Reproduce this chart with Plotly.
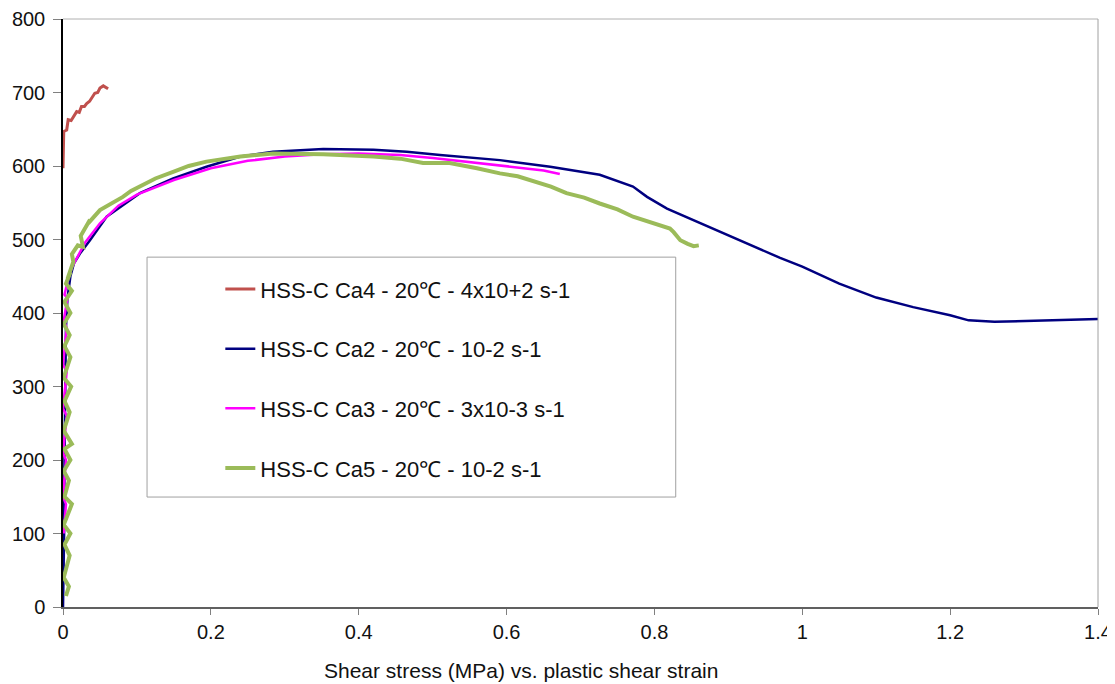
import plotly.graph_objects as go

# ---- data (plastic shear strain, shear stress MPa) ----
ca4_x = [0.0, 0.0, 0.001, 0.005, 0.007, 0.011, 0.014, 0.0185, 0.022, 0.025, 0.029, 0.032, 0.036, 0.039,
         0.043, 0.047, 0.05, 0.0545, 0.061]
ca4_y = [597, 630, 647, 649, 663, 662, 667, 674, 673, 681, 681, 685, 688, 692,
         699, 700, 706, 709, 705]

ca2_x = [0.0, 0.001, 0.0015, 0.002, 0.003, 0.004, 0.006, 0.01, 0.015, 0.023, 0.0365, 0.059, 0.104, 0.149,
         0.194, 0.24, 0.284, 0.352, 0.42, 0.465, 0.51, 0.591, 0.659, 0.726, 0.771, 0.79, 0.817, 0.862,
         0.889, 0.93, 0.97, 1.0, 1.05, 1.1, 1.15, 1.2, 1.225, 1.26, 1.3, 1.35, 1.4]
ca2_y = [0, 50, 100, 200, 300, 380, 420, 450, 468, 481, 499, 531, 563, 583,
         599, 613, 619.5, 623, 622, 619.5, 615, 608, 599, 588, 572, 558, 542, 522,
         510, 492, 475, 463, 440, 421, 408, 397, 390, 388, 389, 390, 392]

ca3_x = [0.001, 0.004, 0.0, 0.004, 0.0, 0.005, 0.0, 0.005, 0.0, 0.005, 0.001, 0.006, 0.002, 0.008,
         0.012, 0.02, 0.03, 0.05, 0.075, 0.1, 0.15, 0.2, 0.25, 0.3, 0.35, 0.4, 0.456, 0.5, 0.546,
         0.6, 0.65, 0.672]
ca3_y = [100, 140, 150, 200, 210, 260, 270, 320, 330, 380, 390, 420, 425, 450,
         462, 478, 496, 522, 546, 561, 581, 597, 607, 613, 616, 617, 615, 611, 606,
         600, 594, 589]

ca5_x = [0.004, 0.008, 0.001, 0.009, 0.002, 0.010, 0.001, 0.012, 0.002, 0.008, 0.001, 0.010, 0.002,
         0.012, 0.001, 0.009, 0.002, 0.011, 0.001, 0.010, 0.002, 0.009, 0.001, 0.010, 0.002, 0.012,
         0.004, 0.010, 0.006, 0.014, 0.012, 0.02, 0.027, 0.024, 0.0365, 0.034, 0.05, 0.059, 0.07,
         0.081, 0.092, 0.104, 0.125, 0.149, 0.17, 0.194, 0.24, 0.284, 0.352, 0.42, 0.456, 0.487,
         0.523, 0.56, 0.591, 0.615, 0.636, 0.66, 0.681, 0.705, 0.726, 0.75, 0.771, 0.795, 0.821,
         0.826, 0.835, 0.845, 0.853, 0.86]
ca5_y = [15, 28, 40, 70, 85, 100, 112, 140, 150, 172, 185, 200, 215,
         222, 240, 265, 280, 300, 312, 340, 355, 370, 385, 400, 415, 430,
         440, 455, 446, 470, 480, 492, 490, 505, 527, 522, 540, 545, 552,
         558, 566, 572, 583, 592, 600, 606, 613, 617, 616, 613, 610, 604,
         604, 597, 590, 586, 579, 572, 563, 557, 549, 541, 531, 523, 515,
         510, 499, 494, 491, 492]

names = ["HSS-C Ca4 - 20\u2103 - 4x10+2 s-1",
         "HSS-C Ca2 - 20\u2103 - 10-2 s-1",
         "HSS-C Ca3 - 20\u2103 - 3x10-3 s-1",
         "HSS-C Ca5 - 20\u2103 - 10-2 s-1"]

x_ticks = [0, 0.2, 0.4, 0.6, 0.8, 1, 1.2, 1.4]
x_tick_text = ["0", "0.2", "0.4", "0.6", "0.8", "1", "1.2", "1.4"]
y_ticks = [0, 100, 200, 300, 400, 500, 600, 700, 800]

FONT = "Arial, Liberation Sans"

fig = go.Figure()
fig.add_trace(go.Scatter(x=ca2_x, y=ca2_y, mode="lines", name=names[1], legendgroup="b", legendrank=2,
                         line=dict(color="#000080", width=2.5)))
fig.add_trace(go.Scatter(x=ca3_x, y=ca3_y, mode="lines", name=names[2], legendgroup="c", legendrank=3,
                         line=dict(color="#FF00FF", width=2.5)))
fig.add_trace(go.Scatter(x=ca5_x, y=ca5_y, mode="lines", name=names[3], legendgroup="d", legendrank=4,
                         line=dict(color="#9BBB59", width=4)))
fig.add_trace(go.Scatter(x=ca4_x, y=ca4_y, mode="lines", name=names[0], legendgroup="a", legendrank=1,
                         line=dict(color="#C0504D", width=3)))

# legend frame and top/right plot border
fig.add_shape(type="rect", xref="paper", yref="paper", x0=0.0812, x1=0.592, y0=0.187, y1=0.595,
              line=dict(color="#A0A0A0", width=1), fillcolor="white", layer="below")
fig.add_shape(type="line", xref="paper", yref="paper", x0=0, x1=1, y0=1, y1=1,
              line=dict(color="#B0B0B0", width=1))
fig.add_shape(type="line", xref="paper", yref="paper", x0=1, x1=1, y0=0, y1=1,
              line=dict(color="#A0A0A0", width=1))

fig.add_annotation(text="Shear stress (MPa) vs. plastic shear strain", xref="paper", yref="paper",
                   x=(521 - 63) / 1035, y=-(670 - 607) / 588, xanchor="center", yanchor="middle",
                   showarrow=False, font=dict(family=FONT, size=21, color="#111111"))

# page has an 8px body margin: plot area targeted at page (63..1098, 19..607)
fig.update_layout(
    width=1107, height=676,
    margin=dict(l=55, r=17, t=11, b=77, autoexpand=False),
    paper_bgcolor="white", plot_bgcolor="rgba(0,0,0,0)",
    font=dict(family=FONT, size=20, color="#111111"),
    legend=dict(x=0.152, y=0.576, xanchor="left", yanchor="top", bgcolor="rgba(0,0,0,0)",
                borderwidth=0, traceorder="grouped", tracegroupgap=28,
                font=dict(family=FONT, size=22, color="#111111"),
                itemwidth=30),
    xaxis=dict(range=[0, 1.4], tickvals=x_ticks, ticktext=x_tick_text, showgrid=False, zeroline=False,
               automargin=False,
               showline=True, linecolor="#606060", linewidth=1.5, ticks="outside", ticklen=6,
               tickcolor="#808080", tickfont=dict(size=20, color="#111111")),
    yaxis=dict(range=[0, 800], tickvals=y_ticks, showgrid=False, zeroline=False,
               automargin=False,
               showline=True, linecolor="black", linewidth=1.5, ticks="outside", ticklen=8,
               tickcolor="#808080", ticklabelstandoff=4, tickfont=dict(size=20, color="#111111")),
)

fig.write_html("out.html")
